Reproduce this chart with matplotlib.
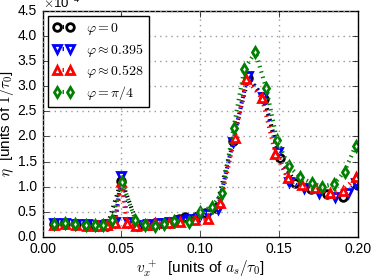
import numpy as np
import matplotlib
matplotlib.use("Agg")
import matplotlib.pyplot as plt
from matplotlib.ticker import FormatStrFormatter

plt.style.use('classic')
plt.rcParams['font.family'] = ['Liberation Sans', 'DejaVu Sans']
plt.rcParams['mathtext.fontset'] = 'cm'

# eta values are in units of 1e-4
x_phi0 = [0.0075, 0.014, 0.021, 0.028, 0.034, 0.041, 0.050, 0.0605, 0.068, 0.075,
          0.081, 0.0865, 0.0906, 0.097, 0.103, 0.110, 0.1207, 0.1304, 0.1407, 0.1503,
          0.1604, 0.1705, 0.1805, 0.1905, 0.200]
y_phi0 = [0.25, 0.26, 0.25, 0.23, 0.22, 0.22, 1.12, 0.22, 0.24, 0.27,
          0.28, 0.35, 0.40, 0.40, 0.47, 0.58, 1.90, 3.17, 2.75, 1.57,
          1.08, 0.95, 0.86, 0.80, 1.03]

x_phi1 = [0.0075, 0.0145, 0.021, 0.028, 0.035, 0.041, 0.046, 0.050, 0.054, 0.060,
          0.067, 0.074, 0.081, 0.087, 0.093, 0.099, 0.105, 0.111, 0.1207, 0.1300,
          0.1400, 0.1490, 0.1560, 0.1655, 0.1755, 0.1855, 0.1935, 0.199]
y_phi1 = [0.27, 0.27, 0.26, 0.25, 0.23, 0.25, 0.30, 1.22, 0.30, 0.23,
          0.25, 0.27, 0.30, 0.33, 0.36, 0.40, 0.45, 0.55, 1.88, 3.20,
          2.78, 1.70, 1.10, 0.97, 0.88, 0.80, 0.88, 1.08]

x_phi2 = [0.0075, 0.0145, 0.021, 0.028, 0.035, 0.041, 0.046, 0.050, 0.0532, 0.059,
          0.066, 0.0714, 0.080, 0.0874, 0.0968, 0.1046, 0.1128, 0.1218, 0.1292, 0.1392,
          0.1477, 0.1556, 0.1647, 0.173, 0.1826, 0.1905, 0.199]
y_phi2 = [0.24, 0.26, 0.24, 0.22, 0.22, 0.24, 0.28, 1.10, 0.28, 0.22,
          0.23, 0.28, 0.27, 0.30, 0.34, 0.36, 0.68, 1.97, 3.15, 2.76,
          1.65, 1.17, 1.04, 0.97, 0.88, 0.92, 1.20]

x_phi3 = [0.0075, 0.0143, 0.0205, 0.0275, 0.033, 0.0383, 0.044, 0.0503, 0.0588, 0.065,
          0.071, 0.077, 0.0835, 0.0926, 0.1001, 0.1075, 0.1139, 0.1211, 0.128, 0.135,
          0.1418, 0.1487, 0.156, 0.163, 0.1706, 0.1773, 0.185, 0.1915, 0.1985]
y_phi3 = [0.26, 0.27, 0.26, 0.24, 0.23, 0.24, 0.34, 1.10, 0.34, 0.24,
          0.22, 0.26, 0.32, 0.30, 0.50, 0.60, 0.88, 2.17, 3.35, 3.68,
          2.96, 1.93, 1.41, 1.20, 1.07, 1.00, 1.06, 1.30, 1.81]

series = [
    (x_phi0, y_phi0, 'k', 'o', r'$\varphi=0$'),
    (x_phi1, y_phi1, 'b', 'v', r'$\varphi\approx0.395$'),
    (x_phi2, y_phi2, 'r', '^', r'$\varphi\approx0.528$'),
    (x_phi3, y_phi3, 'g', 'd', r'$\varphi=\pi/4$'),
]

fig = plt.figure(figsize=(3.74, 2.8), dpi=100)
fig.patch.set_facecolor('white')
ax = fig.add_axes([0.114, 0.154, 0.843, 0.807])

for xs, ys, c, m, lab in series:
    ax.plot(xs, ys, ls=':', lw=3, color=c, marker=m,
            ms=5.5, mec=c, mfc='white', mew=2, label=lab)

ax.set_xlim(0, 0.2)
ax.set_ylim(0, 4.5)
ax.set_xticks([0.0, 0.05, 0.10, 0.15, 0.20])
ax.set_xticklabels(['0.00', '0.05', '0.10', '0.15', '0.20'])
ax.set_yticks(np.arange(0, 4.51, 0.5))
ax.yaxis.set_major_formatter(FormatStrFormatter('%.1f'))
ax.grid(True, ls=':', color='0.6', lw=1)
ax.tick_params(labelsize=10)
ax.text(0.0, 0.998, r'$\times\mathdefault{10^{-4}}$', transform=ax.transAxes,
        ha='left', va='bottom', fontsize=9.5)

ax.set_xlabel(r'$v_x^{\,+}$  [units of $a_s/\tau_0$]', fontsize=11, labelpad=2)
ax.set_ylabel(r'$\eta$  [units of $1/\tau_0$]', fontsize=11, labelpad=1)

leg = ax.legend(loc='upper left', numpoints=2, fontsize=10, handlelength=1.5,
                handletextpad=0.9, borderpad=0.35, labelspacing=0.3,
                borderaxespad=0.4)

fig.savefig('out.png', dpi=100)
